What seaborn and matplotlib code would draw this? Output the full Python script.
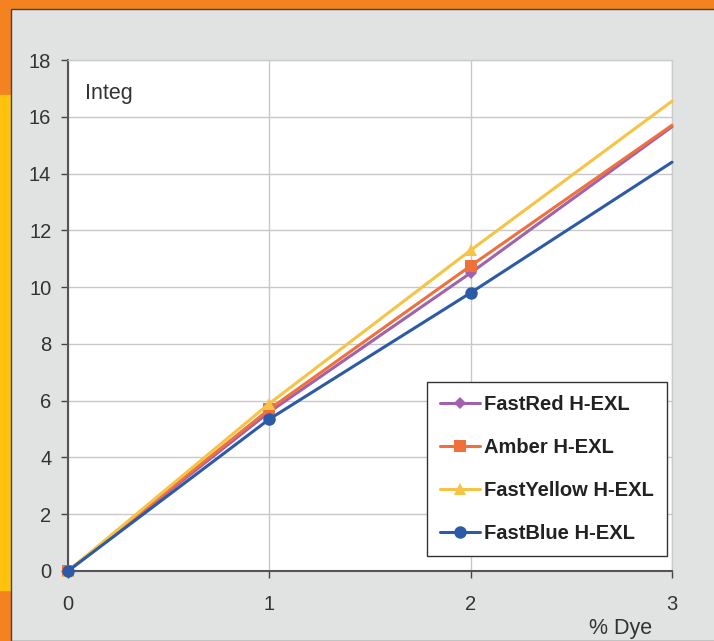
## line chart of integrated colour strength vs dye concentration
import matplotlib
matplotlib.use("Agg")
import matplotlib.pyplot as plt
from matplotlib.patches import Rectangle
import seaborn as sns
import pandas as pd

dye_pct = [0, 1, 2, 3]
series_names = ["FastRed H-EXL", "Amber H-EXL", "FastYellow H-EXL", "FastBlue H-EXL"]
fastred = [0, 5.6, 10.5, 15.65]
amber = [0, 5.7, 10.75, 15.7]
fastyellow = [0, 5.9, 11.3, 16.55]
fastblue = [0, 5.35, 9.8, 14.4]
y_ticks = [0, 2, 4, 6, 8, 10, 12, 14, 16, 18]
x_ticks = [0, 1, 2, 3]

colors = ["#a062ac", "#f0703c", "#f7c345", "#2d5aa6"]
markers = ["D", "s", "^", "o"]
marker_sizes = [6, 8, 9, 9]

def build_frame():
    rows = []
    for name, vals in zip(series_names, [fastred, amber, fastyellow, fastblue]):
        for x, y in zip(dye_pct, vals):
            rows.append({"dye": x, "integ": y, "series": name})
    return pd.DataFrame(rows)

def main():
    df = build_frame()
    sns.set_style("white")
    plt.rcParams['font.family'] = ['Liberation Sans', 'DejaVu Sans']

    fig = plt.figure(figsize=(7.14, 6.41), dpi=100)
    fig.patch.set_facecolor("#f58220")
    # yellow strip on the left and grey panel (behind the axes)
    fig.patches.append(Rectangle((0, 51 / 641), 12 / 714, (546 - 51) / 641,
                                 transform=fig.transFigure, color="#ffc20e", zorder=-2))
    fig.patches.append(Rectangle((11 / 714, 0), 1, 1 - 9 / 641, transform=fig.transFigure,
                                 facecolor="#e1e3e3", edgecolor="#444444", lw=1, zorder=-1))

    ax = fig.add_axes([68 / 714, 70 / 641, 604 / 714, 511 / 641])
    ax.set_facecolor("white")

    for i, name in enumerate(series_names):
        sub = df[df.series == name]
        sns.lineplot(data=sub, x="dye", y="integ", ax=ax, color=colors[i], lw=2.2,
                     marker=markers[i], markersize=marker_sizes[i], markeredgewidth=0,
                     markevery=[0, 1, 2], label=name, clip_on=False, zorder=3 + i)

    ax.set_xlim(0, 3)
    ax.set_ylim(0, 18)
    ax.set_xticks(x_ticks)
    ax.set_yticks(y_ticks)
    ax.grid(True, color="#c8c8c8", lw=1)
    ax.tick_params(axis="both", direction="out", length=5, width=1, color="#444444",
                   labelsize=14.5, labelcolor="#333333", pad=7, left=True, bottom=True)
    ax.tick_params(axis="x", pad=12)
    for side in ["left", "bottom"]:
        ax.spines[side].set_color("#555555")
        ax.spines[side].set_linewidth(1.5)
    for side in ["top", "right"]:
        ax.spines[side].set_color("#cccccc")
        ax.spines[side].set_linewidth(1)
    ax.set_xlabel("")
    ax.set_ylabel("")

    ax.text(0.028, 0.935, "Integ", transform=ax.transAxes, fontsize=15.5, color="#333333",
            va="center")
    ax.text(0.967, -0.112, "% Dye", transform=ax.transAxes, fontsize=15.5, color="#333333",
            ha="right", va="center")

    leg = ax.legend(loc="lower right", bbox_to_anchor=(0.992, 0.029), frameon=True,
                    fancybox=False, edgecolor="#333333", framealpha=1,
                    prop={"weight": "bold", "size": 14.5}, labelspacing=1.2,
                    handlelength=2.0, handletextpad=0.2, borderpad=0.65,
                    borderaxespad=0)
    leg.get_frame().set_linewidth(1)
    for t in leg.get_texts():
        t.set_color("#222222")

    fig.savefig("out.png", dpi=100)

if __name__ == '__main__':
    main()
